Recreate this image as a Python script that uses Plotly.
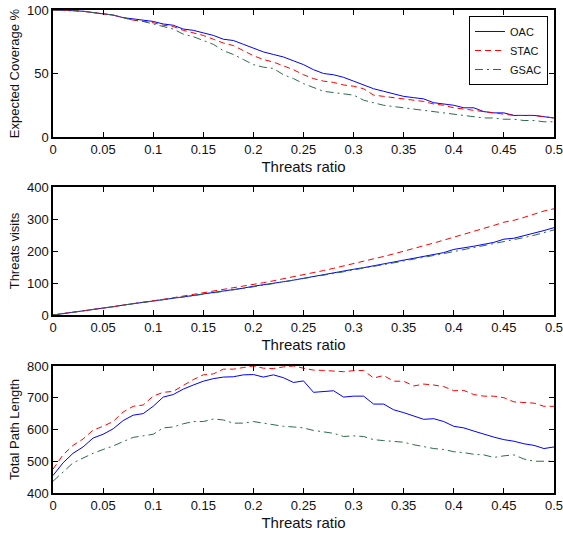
import plotly.graph_objects as go

# ─── Data ────────────────────────────────────────────────────────────────────
threats_ratio = [i / 100 for i in range(51)]

coverage_oac = [100, 100, 99.5, 99, 98, 97, 96, 94, 93, 92, 91, 89, 88, 85, 84, 82, 80, 77, 76, 73,
                70, 67, 65, 63, 60, 57, 53, 50, 49, 47, 44, 41, 38, 36, 34, 32, 31, 30, 27, 26,
                25, 23, 23, 20, 19, 19, 17, 17, 17, 16, 15]
coverage_stac = [100, 100, 99.5, 99, 98, 97, 96, 94, 92, 91, 90, 88, 87, 84, 82, 80, 77, 74, 72, 68,
                 64, 61, 59, 56, 53, 49, 46, 44, 43, 41, 40, 38, 33, 32, 31, 30, 29, 28, 26, 25,
                 23, 22, 21, 20, 19, 18, 17, 17, 17, 16, 15]
coverage_gsac = [100, 100, 99.5, 99, 98, 97, 96, 94, 92, 91, 89, 87, 85, 81, 79, 76, 73, 68, 65, 61,
                 57, 55, 54, 49, 46, 42, 39, 36, 35, 34, 33, 29, 27, 25, 24, 23, 22, 21, 20, 19,
                 18, 17, 16, 15, 15, 14, 14, 13, 13, 12, 12]

visits_oac = [0, 4, 9, 13, 17, 22, 26, 31, 35, 40, 45, 49, 53, 57, 61, 66, 70, 75, 79, 84,
              90, 94, 99, 104, 109, 115, 120, 125, 131, 137, 143, 148, 154, 159, 165, 171, 177, 183, 189, 195,
              205, 209, 215, 221, 227, 237, 240, 248, 255, 264, 273]
visits_stac = [0, 4, 9, 13, 17, 22, 26, 31, 35, 40, 45, 49, 54, 59, 64, 70, 74, 79, 84, 90,
               96, 101, 107, 113, 119, 127, 133, 139, 146, 153, 161, 168, 175, 183, 191, 199, 208, 216, 225, 234,
               243, 251, 260, 270, 280, 290, 296, 305, 315, 325, 332]
visits_gsac = [0, 4, 9, 13, 17, 22, 26, 31, 35, 40, 44, 48, 52, 57, 61, 65, 69, 74, 78, 83,
               88, 93, 98, 103, 108, 113, 118, 123, 129, 135, 141, 146, 152, 157, 163, 169, 174, 180, 186, 192,
               198, 204, 210, 216, 222, 228, 234, 242, 249, 257, 266]

path_oac = [455, 495, 525, 545, 573, 585, 602, 628, 645, 650, 673, 702, 710, 727, 740, 752, 760, 765, 766, 772,
            773, 765, 772, 763, 748, 753, 717, 720, 722, 702, 705, 705, 680, 680, 662, 653, 643, 632, 634, 625,
            610, 605, 595, 585, 576, 568, 563, 555, 550, 540, 545]
path_stac = [475, 520, 550, 570, 598, 610, 625, 655, 673, 677, 705, 717, 720, 738, 757, 772, 775, 790, 790, 795,
             800, 793, 792, 797, 800, 793, 787, 786, 783, 782, 785, 786, 762, 770, 752, 752, 737, 743, 740, 735,
             722, 723, 710, 705, 705, 700, 687, 685, 683, 673, 673]
path_gsac = [437, 465, 495, 510, 525, 537, 548, 562, 575, 580, 585, 605, 608, 618, 625, 625, 633, 630, 620, 620,
             625, 620, 615, 610, 608, 605, 597, 592, 588, 578, 580, 578, 568, 565, 563, 560, 552, 545, 540, 537,
             530, 527, 522, 520, 512, 517, 520, 507, 500, 500, 500]

# ─── Styles ──────────────────────────────────────────────────────────────────
STYLES = {
    "OAC":  dict(color="#0000FF", dash="solid"),
    "STAC": dict(color="#FF0000", dash="6px,4px"),
    "GSAC": dict(color="#2E6B4A", dash="8px,4px,2px,4px"),
}
FONT = "Liberation Sans, Arial, sans-serif"

panels = [
    ("y",  "Expected Coverage %", [0, 100],   50,  [0.737, 1.0],
     {"OAC": coverage_oac, "STAC": coverage_stac, "GSAC": coverage_gsac}),
    ("y2", "Threats visits",      [0, 400],   100, [0.3685, 0.6335],
     {"OAC": visits_oac, "STAC": visits_stac, "GSAC": visits_gsac}),
    ("y3", "Total Path Length",   [400, 800], 100, [0.0, 0.263],
     {"OAC": path_oac, "STAC": path_stac, "GSAC": path_gsac}),
]

fig = go.Figure()
layout = {}
for i, (yname, ytitle, yrange, ydtick, ydomain, series) in enumerate(panels):
    xname = "x" if i == 0 else f"x{i + 1}"
    for name, vals in series.items():
        fig.add_trace(go.Scatter(
            x=threats_ratio, y=vals, mode="lines", name=name,
            line=dict(width=1, **STYLES[name]),
            xaxis=xname, yaxis=yname, showlegend=(i == 0)))

    axis_common = dict(showline=True, linecolor="black", linewidth=1.5, mirror="ticks",
                       ticks="inside", ticklen=5, tickcolor="black", showgrid=False,
                       zeroline=False, automargin=False, ticklabeloverflow="allow",
                       tickfont=dict(size=13, color="#111111"))
    layout["xaxis" if i == 0 else f"xaxis{i + 1}"] = dict(
        axis_common, range=[0, 0.5], dtick=0.05, anchor=yname, domain=[0, 1],
        title=dict(text="Threats ratio", font=dict(size=15, color="#111111"), standoff=5))
    layout["yaxis" if i == 0 else f"yaxis{i + 1}"] = dict(
        axis_common, range=yrange, dtick=ydtick, anchor=xname, domain=ydomain,
        title=dict(text=ytitle, font=dict(size=13, color="#111111"), standoff=4))

fig.update_layout(
    **layout,
    width=563, height=535,
    margin=dict(l=53, r=9, t=10, b=42),
    paper_bgcolor="white", plot_bgcolor="white",
    font=dict(family=FONT, color="#111111"),
    legend=dict(x=0.988, y=0.9876, xanchor="right", yanchor="top",
                bgcolor="white", bordercolor="black", borderwidth=1,
                font=dict(size=11), tracegroupgap=0),
)

# drop the browser's default body margin so the figure sits at the page corner
fig.write_html("out.html", config={"displayModeBar": False},
               post_script="document.body.style.margin='0';document.body.style.overflow='hidden';")
